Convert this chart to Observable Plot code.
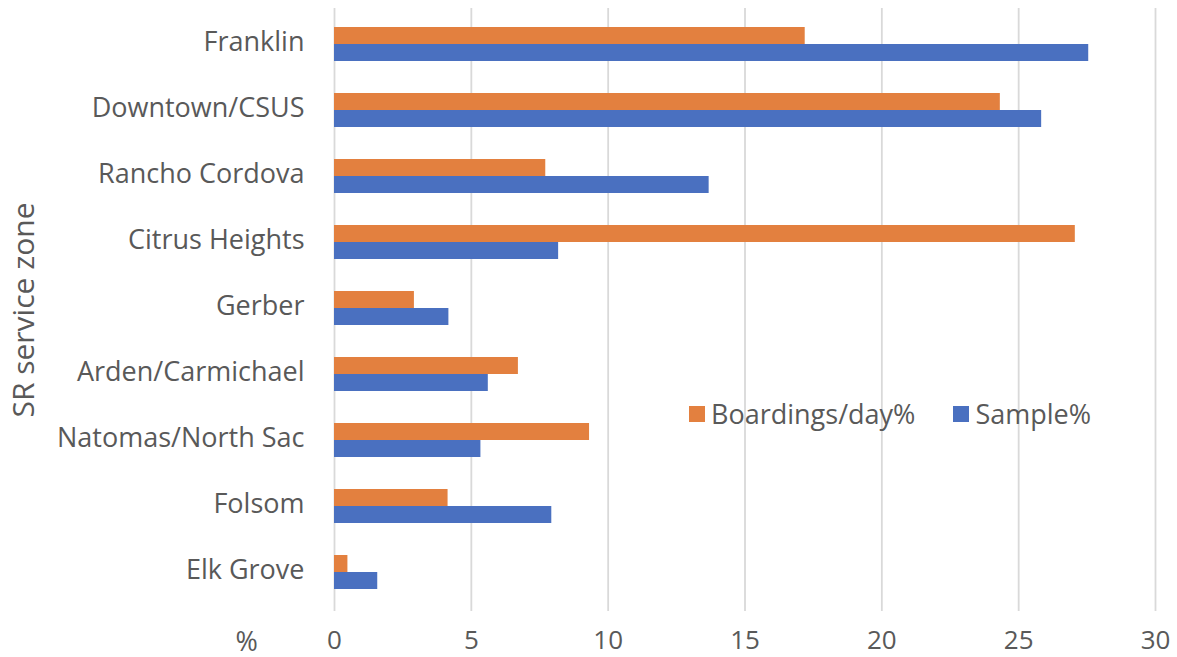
<!DOCTYPE html>
<html>
<head>
<meta charset="utf-8">
<script src="https://cdn.jsdelivr.net/npm/d3@7"></script>
<script src="https://cdn.jsdelivr.net/npm/@observablehq/plot@0.6"></script>
<style>
  html, body { margin: 0; padding: 0; background: #fff; }
  #wrap { position: relative; width: 1177px; height: 657px; font-family: "Open Sans", sans-serif; }
  #legend { position: absolute; left: 689px; top: 395px; display: flex; align-items: center; font-size: 27px; color: #595959; white-space: nowrap; }
  .sw { display: inline-block; width: 16px; height: 16px; margin-right: 6px; }
  .item { display: flex; align-items: center; margin-right: 38px; }
  #ytitle { position: absolute; left: 22px; top: 310px; transform: translate(-50%, -50%) rotate(-90deg); font-size: 30px; color: #595959; white-space: nowrap; }
</style>
</head>
<body>
<div id="wrap"></div>
<script>
const categories = ["Franklin", "Downtown/CSUS", "Rancho Cordova", "Citrus Heights", "Gerber", "Arden/Carmichael", "Natomas/North Sac", "Folsom", "Elk Grove"];
const boardings = [17.2, 24.33, 7.72, 27.07, 2.92, 6.72, 9.32, 4.15, 0.49];
const sample = [27.56, 25.84, 13.69, 8.19, 4.18, 5.62, 5.35, 7.94, 1.58];
const seriesNames = ["Boardings/day%", "Sample%"];
const xTicks = [0, 5, 10, 15, 20, 25, 30];
const colors = ["#E3803F", "#4A70C0"];

const bData = categories.map((c, i) => ({category: c, value: boardings[i]}));
const sData = categories.map((c, i) => ({category: c, value: sample[i]}));

const chart = Plot.plot({
  width: 1177,
  height: 657,
  marginLeft: 334,
  marginRight: 22,
  marginTop: 11,
  marginBottom: 52,
  style: {fontFamily: "Open Sans, sans-serif", fontSize: "27px", color: "#595959", background: "#fff"},
  x: {domain: [0, 30], ticks: xTicks},
  y: {domain: categories, padding: 0},
  marks: [
    Plot.ruleX(xTicks, {stroke: "#d9d9d9", strokeWidth: 1.8, insetTop: -3, insetBottom: -6}),
    Plot.barX(bData, {x: "value", y: "category", fill: colors[0], insetTop: 16, insetBottom: 33}),
    Plot.barX(sData, {x: "value", y: "category", fill: colors[1], insetTop: 33, insetBottom: 16}),
    Plot.axisX({ticks: xTicks, tickSize: 0, tickPadding: 25, label: null, fontSize: 26, fill: "#595959"}),
    Plot.axisY({tickSize: 0, tickPadding: 30, label: null, fontSize: 27, fill: "#595959", dy: -2}),
    Plot.text(["%"], {frameAnchor: "bottom-left", dx: -99, dy: 45, fontSize: 27, fill: "#595959"})
  ]
});

const wrap = document.getElementById("wrap");
wrap.appendChild(chart);

const yt = document.createElement("div");
yt.id = "ytitle";
yt.textContent = "SR service zone";
wrap.appendChild(yt);

const legend = document.createElement("div");
legend.id = "legend";
seriesNames.forEach((name, i) => {
  const item = document.createElement("div");
  item.className = "item";
  const sw = document.createElement("span");
  sw.className = "sw";
  sw.style.background = colors[i];
  const t = document.createElement("span");
  t.textContent = name;
  item.appendChild(sw);
  item.appendChild(t);
  legend.appendChild(item);
});
wrap.appendChild(legend);
</script>
</body>
</html>
